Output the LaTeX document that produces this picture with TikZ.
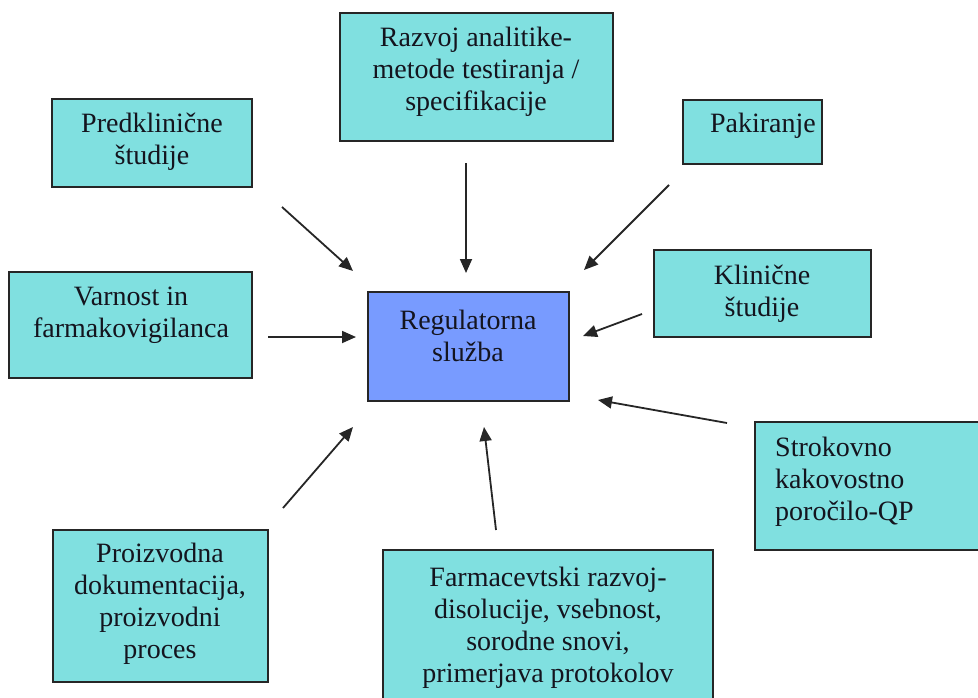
\documentclass[tikz,border=0pt]{standalone}
\usepackage{fontspec}
\setmainfont{Liberation Serif}
\usetikzlibrary{arrows.meta}
\definecolor{boxcyan}{RGB}{128,224,224}
\definecolor{boxblue}{RGB}{120,155,255}
\definecolor{txtcol}{RGB}{20,20,30}
\tikzset{
  boxshape/.style={draw=black!85, line width=1.8pt, rectangle, inner sep=0pt},
  cyanbox/.style={boxshape, fill=boxcyan},
  bluebox/.style={boxshape, fill=boxblue},
  txt/.style={inner sep=0pt, align=center, text=txtcol, font=\fontsize{28}{32}\selectfont},
  arr/.style={line width=1.8pt, draw=black!85, -{Triangle[length=14pt,width=12pt]}}
}
\begin{document}
\begin{tikzpicture}[x=1pt,y=-1pt]
\useasboundingbox (0,0) rectangle (978,697);
% boxes
\path[cyanbox] (340,13) rectangle (613,141);
\path[cyanbox] (52,99) rectangle (252,187);
\path[cyanbox] (9,272) rectangle (252,378);
\path[cyanbox] (683,100) rectangle (822,164);
\path[cyanbox] (654,250) rectangle (871,337);
\path[cyanbox] (755,422) rectangle (990,550);
\path[bluebox] (368,292) rectangle (569,401);
\path[cyanbox] (383,550) rectangle (713,710);
\path[cyanbox] (53,530) rectangle (268,682);
% texts
\node[txt] (razvoj) at (476,72) {Razvoj analitike-\\metode testiranja /\\specifikacije};
\node[txt] (predk) at (152,142) {Predklinične\\študije};
\node[txt] (varnost) at (131,315) {Varnost in\\farmakovigilanca};
\node[txt] (pakir) at (763,126) {Pakiranje};
\node[txt] (klin) at (762,294) {Klinične\\študije};
\node[txt, align=left, anchor=west] (strok) at (775,482) {Strokovno\\kakovostno\\poročilo-QP};
\node[txt] (regul) at (468,336) {Regulatorna\\služba};
\node[txt] (farm) at (548,628) {Farmacevtski razvoj-\\disolucije, vsebnost,\\sorodne snovi,\\primerjava protokolov};
\node[txt] (proizv) at (160,604) {Proizvodna\\dokumentacija,\\proizvodni\\proces};
% arrow endpoints
\coordinate (a1s) at (282,207); \coordinate (a1e) at (353,271);
\coordinate (a2s) at (466,163); \coordinate (a2e) at (466,273);
\coordinate (a3s) at (669,185); \coordinate (a3e) at (584,270);
\coordinate (a4s) at (642,314); \coordinate (a4e) at (583,336);
\coordinate (a5s) at (727,423); \coordinate (a5e) at (598,400);
\coordinate (a6s) at (268,337); \coordinate (a6e) at (356,337);
\coordinate (a7s) at (283,508); \coordinate (a7e) at (353,427);
\coordinate (a8s) at (496,530); \coordinate (a8e) at (484,427);
\draw[arr] (a1s) -- (a1e);
\draw[arr] (a2s) -- (a2e);
\draw[arr] (a3s) -- (a3e);
\draw[arr] (a4s) -- (a4e);
\draw[arr] (a5s) -- (a5e);
\draw[arr] (a6s) -- (a6e);
\draw[arr] (a7s) -- (a7e);
\draw[arr] (a8s) -- (a8e);
\end{tikzpicture}
\end{document}
